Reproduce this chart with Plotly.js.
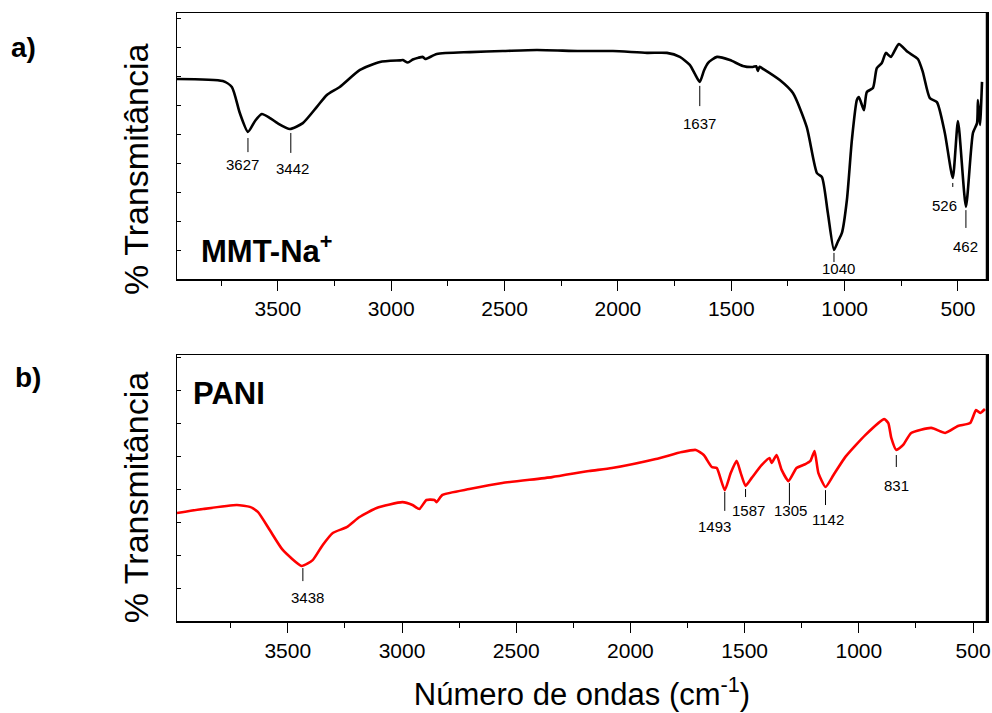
<!DOCTYPE html>
<html>
<head>
<meta charset="utf-8">
<script src="https://cdn.plot.ly/plotly-3.0.1.min.js"></script>
<style>html,body{margin:0;padding:0;background:#fff;}#chart{width:992px;height:713px;}</style>
</head>
<body>
<div id="chart"></div>
<script>
// ---- MMT-Na+ spectrum (wavenumber cm-1, relative transmittance) ----
const mmtWn = [3945,3743,3703,3668,3632,3600,3571,3535,3500,3447,3390,3328,3284,3227,3138,3050,2960,2949,2927,2905,2880,2860,2850,2799,2653,2508,2358,2168,2022,1872,1784,1727,1683,1660,1639,1620,1603,1563,1506,1449,1405,1390,1383,1375,1365,1286,1228,1167,1122,1100,1074,1047,1030,1012,990,968,946,937,915,902,875,858,836,818,796,761,721,677,655,624,593,558,523,500,465,434,416,412,403,394];
const mmtT  = [75.2,74.4,72.2,62.4,55.3,59.5,62.0,60.5,58.5,56.4,58.6,64.7,69.2,72.2,78.6,81.6,82.2,82.3,81.4,82.5,83.2,83.5,82.7,84.6,85.3,85.7,86.1,85.7,85.7,85.0,85.0,83.5,80.5,77.0,74.1,78.5,81.2,83.5,82.3,80.1,79.7,80.0,78.2,79.8,79.3,74.8,69.9,57.1,39.8,38.3,24.8,10.9,14.0,17.3,29.7,52.3,67.3,68.4,63.5,70.3,71.8,79.3,81.2,85.0,83.5,88.3,85.3,82.7,77.8,68.0,66.5,54.9,38.0,59.4,27.1,54.9,58.6,67.3,57.9,74.1];

// ---- PANI spectrum ----
const paniWn = [3985,3871,3723,3666,3631,3579,3522,3439,3391,3347,3303,3242,3186,3111,2998,2954,2924,2893,2858,2849,2823,2705,2561,2343,2181,2081,1889,1775,1714,1679,1644,1622,1587,1561,1535,1517,1496,1469,1426,1391,1382,1360,1338,1308,1273,1234,1212,1194,1177,1146,1111,1059,972,889,871,858,836,806,771,683,622,566,513,487,469,448];
const paniT  = [40.6,42.1,43.6,42.9,41.0,34.2,26.7,20.7,22.9,28.6,33.1,35.3,39.1,42.5,44.7,43.6,42.1,45.5,45.5,44.7,47.4,49.6,51.9,54.1,56.4,57.5,60.9,63.5,64.3,62.4,57.9,57.5,49.2,55.6,60.2,55.6,50.8,53.8,58.6,61.3,59.4,62.4,56.8,52.6,57.5,59.0,60.2,63.9,55.6,50.4,54.9,61.7,69.9,75.9,74.4,68.8,64.3,66.2,70.7,72.6,70.7,73.3,74.4,79.3,78.2,79.7];

// ---- peak labels ----
const mmtPeakText  = ["3627","3442","1637","1040","526","462"];
const mmtPeakWn    = [3632,3443,1639,1047,523,465];
const mmtLineTop   = [53.0,54.9,72.6,9.8,36.1,25.9];
const mmtLineBot   = [47.7,47.4,65.0,6.4,34.6,19.2];
const mmtLabelWn   = [3654,3434,1639,1025,558,465];
const mmtLabelT    = [42.9,41.7,58.6,4.1,27.8,12.4];

const paniPeakText = ["3438","1493","1587","1305","1142","831"];
const paniPeakWn   = [3434,1587,1496,1304,1146,836];
const paniLineTop  = [19.9,48.5,49.6,51.9,49.2,62.4];
const paniLineBot  = [15.0,41.4,46.6,43.6,43.6,57.9];
const paniLabelWn  = [3413,1631,1483,1299,1137,836];
const paniLabelT   = [9.0,35.7,41.7,41.7,38.3,50.8];

const FONT = "Liberation Sans, Arial, sans-serif";

const traces = [
  {x: mmtWn, y: mmtT, xaxis: 'x', yaxis: 'y', mode: 'lines',
   line: {color: '#000000', width: 2.6, shape: 'spline', smoothing: 0.6}, hoverinfo: 'skip'},
  {x: paniWn, y: paniT, xaxis: 'x2', yaxis: 'y2', mode: 'lines',
   line: {color: '#ff0000', width: 2.6, shape: 'spline', smoothing: 0.5}, hoverinfo: 'skip'}
];

const shapes = [];
const annotations = [];
function addPeaks(text, wn, lt, lb, lwn, lt2, xr, yr) {
  for (let i = 0; i < text.length; i++) {
    shapes.push({type: 'line', xref: xr, yref: yr, x0: wn[i], x1: wn[i], y0: lb[i], y1: lt[i],
                 line: {color: '#000', width: 1}});
    annotations.push({xref: xr, yref: yr, x: lwn[i], y: lt2[i], text: text[i], showarrow: false,
                      font: {family: FONT, size: 15, color: '#000'}});
  }
}
addPeaks(mmtPeakText, mmtPeakWn, mmtLineTop, mmtLineBot, mmtLabelWn, mmtLabelT, 'x', 'y');
addPeaks(paniPeakText, paniPeakWn, paniLineTop, paniLineBot, paniLabelWn, paniLabelT, 'x2', 'y2');

// thicker right border as in the reference
shapes.push({type: 'line', xref: 'paper', yref: 'paper', x0: 1, x1: 1, y0: 0.5625, y1: 1, line: {color: '#000', width: 2.5}});
shapes.push({type: 'line', xref: 'paper', yref: 'paper', x0: 1, x1: 1, y0: 0, y1: 0.4375, line: {color: '#000', width: 2.5}});

annotations.push({xref: 'paper', yref: 'paper', x: -0.208, y: 0.944, xanchor: 'left', yanchor: 'middle',
  text: '<b>a)</b>', showarrow: false, font: {family: FONT, size: 28, color: '#000'}});
annotations.push({xref: 'paper', yref: 'paper', x: -0.202, y: 0.40, xanchor: 'left', yanchor: 'middle',
  text: '<b>b)</b>', showarrow: false, font: {family: FONT, size: 28, color: '#000'}});
annotations.push({xref: 'paper', yref: 'paper', x: 0.027, y: 0.612, xanchor: 'left', yanchor: 'middle',
  text: '<b>MMT-Na<sup>+</sup></b>', showarrow: false, font: {family: FONT, size: 31, color: '#000'}});
annotations.push({xref: 'paper', yref: 'paper', x: 0.017, y: 0.375, xanchor: 'left', yanchor: 'middle',
  text: '<b>PANI</b>', showarrow: false, font: {family: FONT, size: 31, color: '#000'}});
annotations.push({xref: 'paper', yref: 'paper', x: -0.0506, y: 0.742, xanchor: 'center', yanchor: 'middle',
  textangle: -90, text: '% Transmitância', showarrow: false, font: {family: FONT, size: 34, color: '#000'}});
annotations.push({xref: 'paper', yref: 'paper', x: -0.0506, y: 0.202, xanchor: 'center', yanchor: 'middle',
  textangle: -90, text: '% Transmitância', showarrow: false, font: {family: FONT, size: 34, color: '#000'}});

const xCommon = {
  autorange: false, showline: true, mirror: true, linecolor: '#000', linewidth: 1.5,
  ticks: 'outside', ticklen: 10, tickwidth: 1, tickcolor: '#000', dtick: 500, tick0: 0,
  minor: {ticks: 'outside', ticklen: 5, dtick: 250, tick0: 0, tickcolor: '#000', tickwidth: 1},
  showgrid: false, zeroline: false,
  tickfont: {family: FONT, size: 21, color: '#000'}
};
const yCommon = {
  showline: true, mirror: true, linecolor: '#000', linewidth: 1.5,
  ticks: 'inside', ticklen: 4, tickcolor: '#000', showticklabels: false,
  showgrid: false, zeroline: false, autorange: false
};

const layout = {
  width: 992, height: 713,
  margin: {l: 177, r: 5, t: 13, b: 92},
  paper_bgcolor: '#fff', plot_bgcolor: '#fff',
  showlegend: false,
  xaxis: Object.assign({}, xCommon, {range: [3945, 372], anchor: 'y', domain: [0, 1]}),
  xaxis2: Object.assign({}, xCommon, {range: [3985, 439], anchor: 'y2', domain: [0, 1],
    title: {text: 'Número de ondas (cm<sup>-1</sup>)', font: {family: FONT, size: 31, color: '#000'}, standoff: 22}}),
  yaxis: Object.assign({}, yCommon, {range: [0, 100], domain: [0.5625, 1], anchor: 'x', dtick: 10.9, tick0: 0}),
  yaxis2: Object.assign({}, yCommon, {range: [0, 100], domain: [0, 0.4375], anchor: 'x2', dtick: 12.4, tick0: 0}),
  shapes: shapes,
  annotations: annotations
};

Plotly.newPlot('chart', traces, layout, {staticPlot: true, displayModeBar: false});
</script>
</body>
</html>
